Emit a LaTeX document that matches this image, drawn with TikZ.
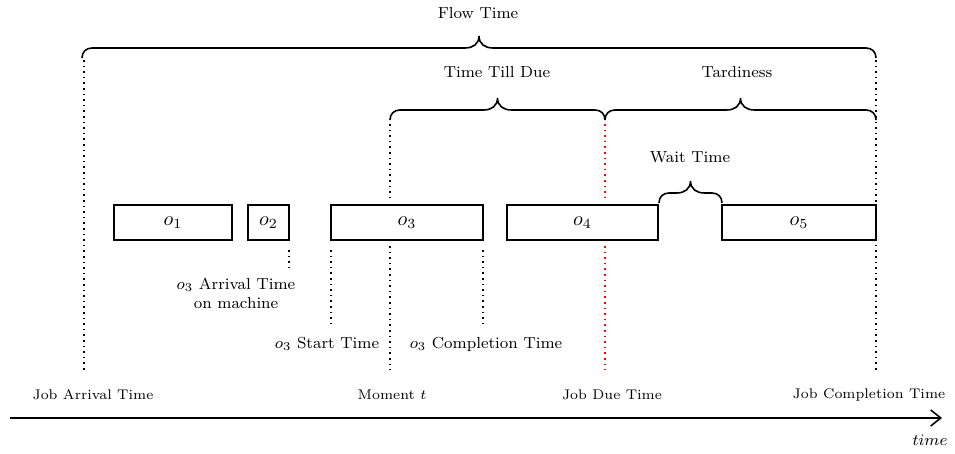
\documentclass[tikz,border=0pt]{standalone}
\usetikzlibrary{calc,arrows.meta}
\begin{document}
\begin{tikzpicture}[x=0.5pt,y=-0.5pt,
  opbox/.style={draw,thick,minimum height=17.5pt,inner sep=0pt,outer sep=0pt,font=\normalsize},
  guide/.style={thick,dotted},
  dueguide/.style={thick,dotted,red},
  % curly brace drawn upwards between two points on the same level
  span/.style={thick,to path={
    let \p1=(\tikztostart), \p2=(\tikztotarget), \n1={(\x1+\x2)/2} in
    (\p1) .. controls ({\x1},{\y1+3pt}) and ({\x1+2pt},{\y1+5pt}) .. ({\x1+5pt},{\y1+5pt})
    -- ({\n1-7pt},{\y1+5pt})
    .. controls ({\n1-3pt},{\y1+5pt}) and ({\n1},{\y1+7pt}) .. ({\n1},{\y1+11pt})
    .. controls ({\n1},{\y1+7pt}) and ({\n1+3pt},{\y1+5pt}) .. ({\n1+7pt},{\y1+5pt})
    -- ({\x2-5pt},{\y1+5pt})
    .. controls ({\x2-2pt},{\y1+5pt}) and ({\x2},{\y1+3pt}) .. (\p2)}},
  toplabel/.style={font=\footnotesize,inner sep=1pt},
  midlabel/.style={font=\footnotesize,inner sep=1pt,align=center},
  axislabel/.style={font=\scriptsize,inner sep=1pt}]
\useasboundingbox (0,0) rectangle (955,454);

% operations on the machine
\node[opbox,minimum width=59pt]   (o1) at (173,222.5) {$o_1$};
\node[opbox,minimum width=20.5pt] (o2) at (268.5,222.5) {$o_2$};
\node[opbox,minimum width=76pt]   (o3) at (407,222.5) {$o_3$};
\node[opbox,minimum width=75.5pt] (o4) at (582.5,222.5) {$o_4$};
\node[opbox,minimum width=77pt]   (o5) at (799,222.5) {$o_5$};

% time axis
\coordinate (axS) at (10,418);
\coordinate (axE) at (942,418);
\draw[thick,-{Straight Barb[length=5pt,width=8pt]}] (axS) -- (axE);
\node[font=\footnotesize] (tm) at (930,440) {$time$};

% event labels on the axis
\node[axislabel] (lArr)  at (93,395)  {Job Arrival Time};
\node[axislabel] (lMom)  at (392,395) {Moment $t$};
\node[axislabel] (lDue)  at (612,395) {Job Due Time};
\node[axislabel] (lComp) at (869,395) {Job Completion Time};

% brace end points
\coordinate (fA) at (82,58);
\coordinate (fB) at (876,58);
\coordinate (dA) at (390,120);
\coordinate (dB) at (605,120);
\coordinate (dC) at (876,120);
\coordinate (wA) at (659,203);
\coordinate (wB) at (722,203);

% braces and their labels
\draw[span] (fA) to (fB);
\node[toplabel] (lFlow) at (478,13) {Flow Time};
\draw[span] (dA) to (dB);
\node[toplabel] (lTill) at (497,72) {Time Till Due};
\draw[span] (dB) to (dC);
\node[toplabel] (lTard) at (737,72) {Tardiness};
\draw[span] (wA) to (wB);
\node[toplabel] (lWait) at (690,157) {Wait Time};

% guides for o3
\node[midlabel] (lO3a) at (236,293) {$o_3$ Arrival Time\\on machine};
\node[midlabel] (lO3s) at (327,344) {$o_3$ Start Time};
\node[midlabel] (lO3c) at (486,344) {$o_3$ Completion Time};
\coordinate (aEnd) at (289,272);
\coordinate (sEnd) at (331,325);
\coordinate (cEnd) at (483,325);
\draw[guide,shorten <=5pt] (o2.south east) -- (aEnd);
\draw[guide,shorten <=5pt] (o3.south west) -- (sEnd);
\draw[guide,shorten <=5pt] (o3.south east) -- (cEnd);

% job-level guides
\coordinate (gArr) at (84,60);
\coordinate (gArrE) at (84,370);
\coordinate (gMomE) at (390,370);
\coordinate (gDueE) at (605,370);
\coordinate (gComp) at (876,60);
\coordinate (gCompE) at (876,370);
\draw[guide] (gArr) -- (gArrE);
\draw[guide,shorten <=2pt,shorten >=2pt] (dA) -- (dA |- o3.north);
\draw[guide,shorten <=3pt] (dA |- o3.south) -- (gMomE);
\draw[dueguide,shorten <=2pt,shorten >=2pt] (dB) -- (dB |- o4.north);
\draw[dueguide,shorten <=3pt] (dB |- o4.south) -- (gDueE);
\draw[guide] (gComp) -- (gCompE);
\end{tikzpicture}
\end{document}
